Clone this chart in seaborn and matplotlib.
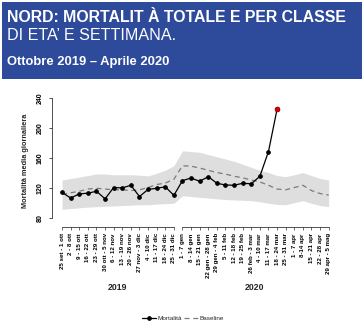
import numpy as np
import pandas as pd
import matplotlib
matplotlib.use("Agg")
import matplotlib.pyplot as plt
from matplotlib.patches import Rectangle
import seaborn as sns

weeks_2019 = ["25 set - 1 ott", "2 - 8 ott", "9 - 15 ott", "16 - 22 ott", "23 - 29 ott",
              "30 ott - 5 nov", "6 - 12 nov", "13 - 19 nov", "20 - 26 nov", "27 nov - 3 dic",
              "4 - 10 dic", "11 - 17 dic", "18 - 24 dic", "25 - 31 dic"]
weeks_2020 = ["1 - 7 gen", "8 - 14 gen", "15 - 21 gen", "22 gen - 28 gen", "29 gen - 4 feb",
              "5 - 11 feb", "12 - 18 feb", "19 - 25 feb", "26 feb - 3 mar", "4 - 10 mar",
              "11 - 17 mar", "18 - 24 mar", "25 - 31 mar", "1 - 7 apr", "8-14 apr",
              "15 - 21 apr", "22 - 28 apr", "29 apr - 5 mag"]
years = ["2019", "2020"]

mortalita = [114.5, 107, 112.5, 113.5, 116, 106, 121, 120.5, 124, 109, 118.5, 120, 122, 110.6,
             130.2, 133.7, 129.3, 135.5, 126.7, 124.4, 124, 126.7, 126, 136, 169, 225.5]
baseline = [112, 114, 116, 119, 120, 119, 118, 118, 117, 118, 121, 125, 127, 132,
            150, 149.5, 147, 144, 141, 139, 136, 134, 131, 128.5, 124, 119, 118, 121, 124, 117, 113, 111]
upper = [131, 133, 135, 137, 139, 139, 138, 138, 138, 137.5, 136.5, 140, 144, 150,
         170, 169, 168, 165, 162, 159, 156, 152, 148, 144, 141, 137, 135.5, 138, 141, 137, 133, 131]
lower = [92, 93, 94, 95, 95.5, 96, 96.5, 97, 97.5, 98, 98, 99, 99.5, 100,
         110, 109, 108, 107, 106, 105, 104.5, 104, 103.5, 102, 100, 98.5, 98, 101, 103.5, 100, 97, 95.5]

labels = weeks_2019 + weeks_2020
n = len(labels)
idx = np.arange(n)
df_b = pd.DataFrame({"x": idx, "baseline": baseline, "upper": upper, "lower": lower})
df_m = pd.DataFrame({"x": idx[:len(mortalita)], "mortalita": mortalita})

sns.set_style("white")
plt.rcParams["font.family"] = ["Liberation Sans", "DejaVu Sans"]

W, H = 364, 329
fig = plt.figure(figsize=(W / 100, H / 100), dpi=100)

# banner
fig.patches.append(Rectangle((2 / W, 1 - 79 / H), 359.5 / W, 76.5 / H, transform=fig.transFigure,
                             facecolor="#2E4A9B", edgecolor="none", zorder=0))
fig.text(7.0 / W, 1 - 21.7 / H, "NORD: MORTALIT À TOTALE E PER CLASSE", color="white",
         fontsize=11.4, fontweight="bold", va="baseline", ha="left")
fig.text(7.0 / W, 1 - 40 / H, "DI ETA’ E SETTIMANA.", color="white",
         fontsize=11.6, fontweight="normal", va="baseline", ha="left")
fig.text(7.0 / W, 1 - 64.5 / H, "Ottobre 2019 – Aprile 2020", color="white",
         fontsize=9.4, fontweight="bold", va="baseline", ha="left")

ax = fig.add_axes([52 / W, (H - 227) / H, (339 - 52) / W, (227 - 94) / H])
ymin, ymax = 68.4, 245.7
ax.set_xlim(-1.17, 32.2)
ax.set_ylim(ymin, ymax)

ax.fill_between(df_b["x"], df_b["lower"], df_b["upper"], color="#DEDEDE", linewidth=0, zorder=1)
sns.lineplot(data=df_b, x="x", y="baseline", ax=ax, color="#7A7A7A", linewidth=0.9,
             dashes=False, linestyle=(0, (4, 3)), label="Baseline", zorder=2)
sns.lineplot(data=df_m, x="x", y="mortalita", ax=ax, color="black", linewidth=0.9,
             marker="o", markersize=2.6, markeredgecolor="black", label="Mortalità", zorder=3)
last = df_m.iloc[[-1]]
ax.plot(last["x"], last["mortalita"], marker="o", markersize=3.6, color="#E00000",
        markeredgecolor="#7A0000", markeredgewidth=0.4, linestyle="none", zorder=4)

# axes styling
for s in ["top", "right", "bottom"]:
    ax.spines[s].set_visible(False)
ax.spines["left"].set_bounds(80, 240)
ax.spines["left"].set_linewidth(0.6)
ax.spines["left"].set_color("#333333")
ax.set_yticks([80, 120, 160, 200, 240])
ax.set_yticklabels(["80", "120", "160", "200", "240"], rotation=90, va="center",
                   fontsize=5, fontweight="bold")
ax.tick_params(axis="y", length=2.2, width=0.6, pad=4, colors="#333333", labelcolor="black",
               left=True)

ax.set_xticks(idx)
ax.set_xticklabels(labels, rotation=90, fontsize=4.4, fontweight="bold", va="top", ha="center")
ax.tick_params(axis="x", length=2.5, width=0.5, pad=2, colors="#333333", labelcolor="black",
               bottom=True)
ax.set_xlabel("")
ax.set_ylabel("Mortalità media giornaliera", fontsize=5.3, fontweight="bold", labelpad=5)

# broken x axis line (two segments)
n19 = len(weeks_2019)
ax.plot([0, n19 - 1], [ymin, ymin], color="#333333", linewidth=0.6, clip_on=False, zorder=5)
ax.plot([n19, n - 1], [ymin, ymin], color="#333333", linewidth=0.6, clip_on=False, zorder=5)

# year labels
fig.text((62 + 8.54 * (n19 - 1) / 2) / W, 1 - 290 / H, years[0], ha="center", va="baseline",
         fontsize=6.3, fontweight="bold")
fig.text((62 + 8.54 * (n19 + (n - 1)) / 2) / W, 1 - 290 / H, years[1], ha="center", va="baseline",
         fontsize=6.3, fontweight="bold")

# legend
h, l = ax.get_legend_handles_labels()
ax.get_legend().remove()
order = [l.index("Mortalità"), l.index("Baseline")]
fig.legend([h[i] for i in order], [l[i] for i in order], loc="center",
           bbox_to_anchor=(183 / W, 1 - 318 / H), ncol=2, frameon=False, fontsize=4.6,
           handlelength=2.2, columnspacing=0.3, handletextpad=0.3)

fig.savefig("out.png", dpi=100, facecolor="white")
